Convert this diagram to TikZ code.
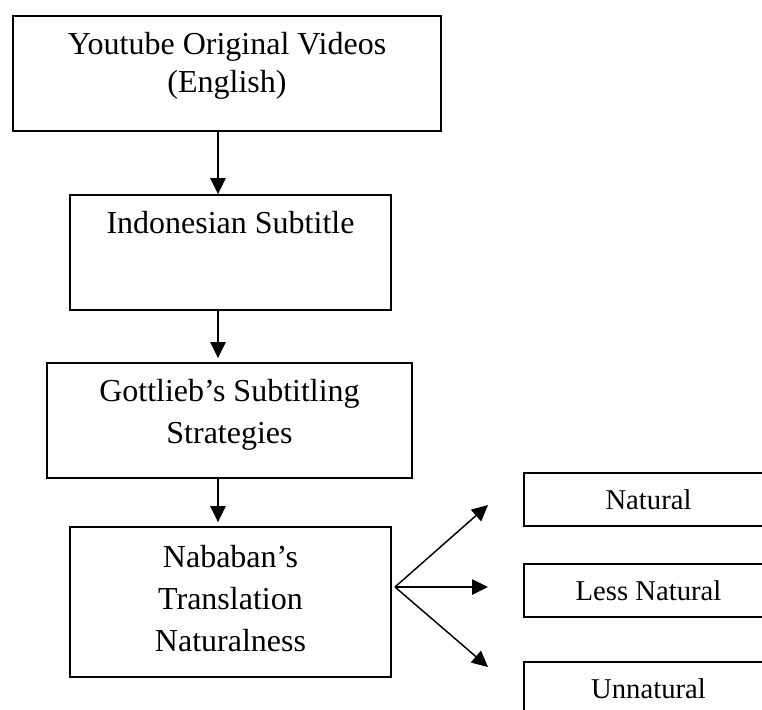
\documentclass[tikz,border=0pt]{standalone}
\usepackage{fontspec}
\setmainfont{Liberation Serif}
\usetikzlibrary{arrows.meta,positioning}

\tikzset{
	box/.style={draw, rectangle, line width=1.4pt, inner sep=0pt},
	boxtext/.style={anchor=north, inner sep=0pt, align=center, font=\fontsize{24}{31.5}\selectfont},
	smallbox/.style={box, minimum width=186.75pt, minimum height=39.75pt, font=\fontsize{21.5}{25}\selectfont},
	flow/.style={line width=1.1pt, -{Triangle[width=11.5pt,length=12pt]}}
}

\begin{document}
\begin{tikzpicture}[x=0.75pt, y=-0.75pt]
	
	\clip (0,0) rectangle (762,709);
	
	% main column
	\node[box, minimum width=321pt, minimum height=86.25pt] (videos) at (227,73.5) {};
	\node[boxtext, font=\fontsize{24}{28.5}\selectfont] (videostxt) at ([yshift=-13pt]videos.north) {Youtube Original Videos\\(English)};
	
	\node[box, minimum width=240.75pt, minimum height=86.25pt] (subtitle) at (230.5,252.5) {};
	\node[boxtext] (subtitletxt) at ([yshift=-13pt]subtitle.north) {Indonesian Subtitle};
	
	\node[box, minimum width=273.75pt, minimum height=86.25pt] (gottlieb) at (229.5,420.5) {};
	\node[boxtext] (gottliebtxt) at ([yshift=-13pt]gottlieb.north) {Gottlieb’s Subtitling\\Strategies};
	
	\node[box, minimum width=240.75pt, minimum height=112.5pt] (nababan) at (230.5,602) {};
	\node[boxtext] (nababantxt) at ([yshift=-14pt]nababan.north) {Nababan’s\\Translation\\Naturalness};
	
	% results
	\node[smallbox] (natural) at (648.5,499.5) {Natural};
	\node[smallbox] (less) at (648.5,590.5) {Less Natural};
	\node[smallbox] (unnatural) at (648.5,688.5) {Unnatural};
	
	% arrows
	\coordinate (axis) at (218,0);
	\draw[flow] (videos.south -| axis) -- (subtitle.north -| axis);
	\draw[flow, shorten >=3pt] (subtitle.south -| axis) -- (gottlieb.north -| axis);
	\draw[flow, shorten >=3pt] (gottlieb.south -| axis) -- (nababan.north -| axis);
	
	\coordinate (fan) at (395,587);
	\coordinate (tipnat) at (488,505);
	\coordinate (tipless) at (488,587);
	\coordinate (tipun) at (488,667);
	\draw[flow] (fan) -- (tipnat);
	\draw[flow] (fan) -- (tipless);
	\draw[flow] (fan) -- (tipun);
	
\end{tikzpicture}
\end{document}
